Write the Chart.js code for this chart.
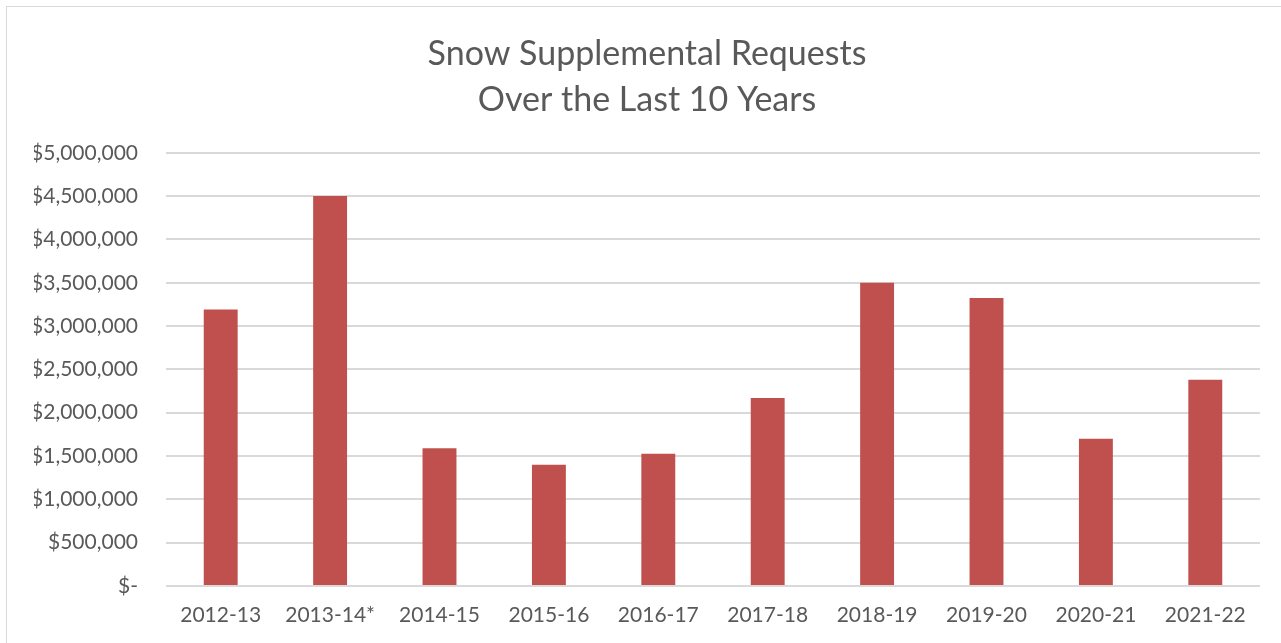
<!DOCTYPE html>
<html>
<head>
<meta charset="utf-8">
<script src="https://cdn.jsdelivr.net/npm/chart.js@4"></script>
<style>
  html, body { margin: 0; padding: 0; background: #fff; }
  #wrap { width: 1281px; height: 643px; }
</style>
</head>
<body>
<div id="wrap"><canvas id="chart" width="1281" height="643"></canvas></div>
<script>
// fiscal years and requested amounts
const years = ['2012-13', '2013-14*', '2014-15', '2015-16', '2016-17', '2017-18', '2018-19', '2019-20', '2020-21', '2021-22'];
const requests = [3190000, 4500000, 1590000, 1400000, 1525000, 2170000, 3500000, 3325000, 1700000, 2380000];
const titleLines = ['Snow Supplemental Requests', 'Over the Last 10 Years'];

const textColor = '#595959';
const gridColor = '#d9d9d9';

const chartBorder = {
	id: 'chartBorder',
	beforeDraw(chart) {
		const { ctx } = chart;
		ctx.save();
		ctx.fillStyle = '#fff';
		ctx.fillRect(0, 0, chart.width, chart.height);
		ctx.strokeStyle = gridColor;
		ctx.lineWidth = 1;
		ctx.strokeRect(6.5, 6.5, 1400, 800);
		ctx.restore();
	}
}

function money(v) {
	if (v === 0) return '$-';
	return '$' + v.toLocaleString('en-US');
}

new Chart(document.getElementById('chart'), {
	type: 'bar',
	data: {
		labels: years,
		datasets: [{
			data: requests,
			backgroundColor: '#c0504d',
			barPercentage: 0.62,
			categoryPercentage: 0.5
		}]
	},
	options: {
		responsive: false,
		animation: false,
		layout: { padding: { left: 34, right: 21, top: 0, bottom: 0 } },
		plugins: {
			legend: { display: false },
			tooltip: { enabled: false },
			title: {
				display: true,
				text: titleLines,
				color: textColor,
				font: { family: 'Lato', size: 34, weight: 'normal', lineHeight: 1.35 },
				padding: { top: 31, bottom: 30 }
			}
		},
		scales: {
			x: {
				grid: { display: false },
				border: { display: false },
				ticks: {
					color: textColor,
					font: { family: 'Lato', size: 21 },
					padding: 9,
					maxRotation: 0
				},
				afterFit(scale) { scale.height = 57; }
			},
			y: {
				min: 0,
				max: 5000000,
				ticks: {
					stepSize: 500000,
					color: textColor,
					font: { family: 'Lato', size: 21 },
					padding: 28,
					callback: money
				},
				grid: { color: gridColor, lineWidth: 2, drawTicks: false },
				border: { display: false },
				afterFit(scale) { scale.width = 132; }
			}
		}
	},
	plugins: [chartBorder]
});
</script>
</body>
</html>
